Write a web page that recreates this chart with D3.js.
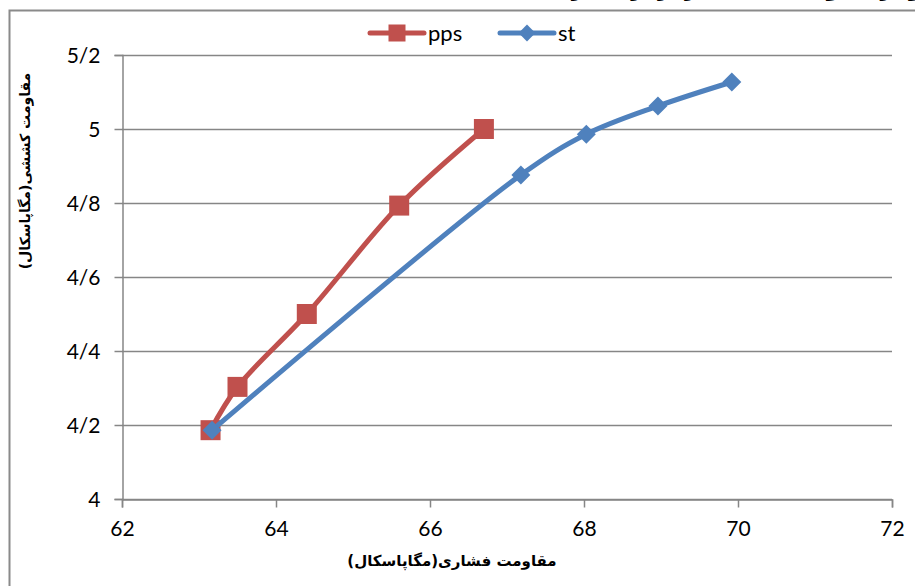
<!DOCTYPE html>
<html>
<head>
<meta charset="utf-8">
<script src="https://cdn.jsdelivr.net/npm/d3@7"></script>
<style>
  html, body { margin: 0; padding: 0; background: #fff; }
  svg { display: block; }
  .tick text { font-family: Lato, "Open Sans", sans-serif; font-size: 21px; fill: #000; }
</style>
</head>
<body>
<svg id="chart" width="915" height="586"></svg>
<script>
// Compressive vs tensile strength (MPa) for two mixes
const ppsCompressive = [63.15, 63.5, 64.4, 65.6, 66.7];
const ppsTensile     = [4.186, 4.303, 4.50, 4.793, 5.00];
const stCompressive  = [63.17, 67.18, 68.03, 68.96, 69.92];
const stTensile      = [4.186, 4.876, 4.986, 5.062, 5.127];
const xTicks = [62, 64, 66, 68, 70, 72];
const yTicks = [4, 4.2, 4.4, 4.6, 4.8, 5, 5.2];
const seriesNames = ["pps", "st"];
const xTitle = "مقاومت فشاری(مگاپاسکال)";
const yTitle = "مقاومت کششی(مگاپاسکال)";
const chartTitle = "نمودار مقاومت کششی در برابر فشاری";

const svg = d3.select("#chart");
const plot = { left: 122, right: 892, top: 55, bottom: 499 };

const x = d3.scaleLinear().domain([62, 72]).range([plot.left, plot.right]);
const y = d3.scaleLinear().domain([4, 5.2]).range([plot.bottom, plot.top]);

// Title, sitting above the frame's top edge
svg.append("text")
  .attr("x", 748).attr("y", -4)
  .attr("text-anchor", "middle")
  .attr("direction", "rtl")
  .style("font-family", "'DejaVu Sans', sans-serif")
  .style("font-weight", "bold")
  .style("font-size", "20px")
  .text(chartTitle);

// Outer chart border
svg.append("path")
  .attr("d", "M9.5,600 V10.5 H930")
  .attr("fill", "none")
  .attr("stroke", "#8a8a8a")
  .attr("stroke-width", 2);

// Horizontal gridlines
svg.append("g")
  .selectAll("line")
  .data(yTicks)
  .join("line")
  .attr("x1", plot.left).attr("x2", plot.right)
  .attr("y1", d => Math.round(y(d)) + 0.5).attr("y2", d => Math.round(y(d)) + 0.5)
  .attr("stroke", "#868686")
  .attr("stroke-width", 1.5);

const fmt = d => String(+d.toFixed(1)).replace(".", "/");

// Y axis
const yAxis = svg.append("g")
  .attr("transform", `translate(${plot.left + 0.5},0)`)
  .call(d3.axisLeft(y).tickValues(yTicks).tickFormat(fmt).tickSize(8).tickPadding(14));
yAxis.selectAll("path, line").attr("stroke", "#868686").attr("stroke-width", 1.5);
yAxis.selectAll(".tick text").attr("dy", "0.35em");

// X axis
const xAxis = svg.append("g")
  .attr("transform", `translate(0,${plot.bottom + 0.5})`)
  .call(d3.axisBottom(x).tickValues(xTicks).tickFormat(d3.format("d")).tickSize(8).tickPadding(14));
xAxis.selectAll("path, line").attr("stroke", "#868686").attr("stroke-width", 1.5);

// Axis titles
svg.append("text")
  .attr("x", (plot.left + plot.right) / 2 - 55).attr("y", 566)
  .attr("text-anchor", "middle")
  .attr("direction", "rtl")
  .style("font-family", "'DejaVu Sans', sans-serif")
  .style("font-weight", "bold")
  .style("font-size", "15px")
  .text(xTitle);

svg.append("text")
  .attr("transform", "translate(30,171) rotate(-90)")
  .attr("text-anchor", "middle")
  .attr("direction", "rtl")
  .style("font-family", "'DejaVu Sans', sans-serif")
  .style("font-weight", "bold")
  .style("font-size", "14px")
  .text(yTitle);

// Series
const line = d3.line()
  .x(d => x(d[0])).y(d => y(d[1]))
  .curve(d3.curveCatmullRom.alpha(0.5));

const ppsData = d3.zip(ppsCompressive, ppsTensile);
const stData = d3.zip(stCompressive, stTensile);
const red = "#C0504D", blue = "#4F81BD";

svg.append("path").datum(ppsData)
  .attr("d", line).attr("fill", "none")
  .attr("stroke", red).attr("stroke-width", 5).attr("stroke-linejoin", "round").attr("stroke-linecap", "round");

svg.append("g").selectAll("rect")
  .data(ppsData).join("rect")
  .attr("x", d => x(d[0]) - 10).attr("y", d => y(d[1]) - 10)
  .attr("width", 20).attr("height", 20)
  .attr("fill", red);

svg.append("path").datum(stData)
  .attr("d", line).attr("fill", "none")
  .attr("stroke", blue).attr("stroke-width", 5).attr("stroke-linejoin", "round").attr("stroke-linecap", "round");

const diamond = d3.symbol().type(d3.symbolDiamond2).size(230);
svg.append("g").selectAll("path")
  .data(stData).join("path")
  .attr("transform", d => `translate(${x(d[0])},${y(d[1])})`)
  .attr("d", diamond)
  .attr("fill", blue);

// Legend
const legend = svg.append("g").attr("transform", "translate(0,33)");
const items = [
  { name: seriesNames[0], color: red, x0: 370, shape: "square" },
  { name: seriesNames[1], color: blue, x0: 500, shape: "diamond" }
];
items.forEach(it => {
  legend.append("line")
    .attr("x1", it.x0).attr("x2", it.x0 + 54)
    .attr("stroke", it.color).attr("stroke-width", 5).attr("stroke-linecap", "round");
  if (it.shape === "square") {
    legend.append("rect")
      .attr("x", it.x0 + 27 - 8.5).attr("y", -8.5).attr("width", 17).attr("height", 17)
      .attr("fill", it.color);
  } else {
    legend.append("path")
      .attr("transform", `translate(${it.x0 + 27},0)`)
      .attr("d", d3.symbol().type(d3.symbolDiamond2).size(180))
      .attr("fill", it.color);
  }
  legend.append("text")
    .attr("x", it.x0 + 58).attr("y", 0).attr("dy", "0.35em")
    .style("font-family", "Lato, 'Open Sans', sans-serif")
    .style("font-size", "22px")
    .text(it.name);
});
</script>
</body>
</html>
